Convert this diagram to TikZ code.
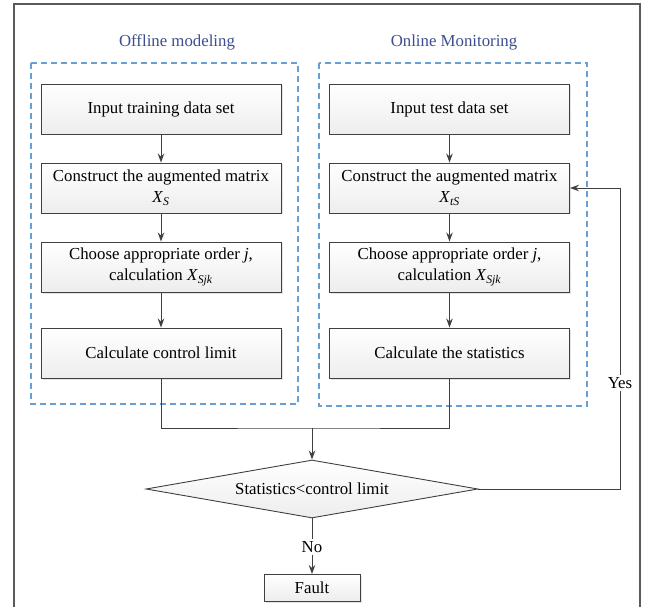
\documentclass[tikz,border=0pt]{standalone}
\usepackage{fontspec}
\setmainfont{Liberation Serif}
\usepackage{tikz}
\usetikzlibrary{shapes,shapes.geometric,arrows,arrows.meta,calc,positioning,shadows}

\definecolor{linegray}{HTML}{404040}
\definecolor{framegray}{HTML}{5A5A5A}
\definecolor{dashblue}{HTML}{6A9FD6}
\definecolor{titleblue}{HTML}{3C4E8E}

\tikzset{
  block/.style={draw=linegray, line width=0.9pt, top color=white, bottom color=gray!14,
    drop shadow={shadow xshift=1.5pt, shadow yshift=-1.5pt, fill=gray!35, opacity=0.6},
    minimum width=240pt, minimum height=50pt, align=center, inner sep=2pt},
  decision/.style={diamond, draw=linegray, line width=0.9pt, top color=white, bottom color=gray!14,
    aspect=5.7, minimum width=332pt, minimum height=58pt, inner sep=0pt},
  phase/.style={draw=dashblue, line width=1.3pt, dash pattern=on 6pt off 4pt},
  phasetitle/.style={text=titleblue},
  answer/.style={fill=white, inner sep=2pt},
  flow/.style={linegray, line width=0.9pt}
}

\begin{document}
\begin{tikzpicture}[%
    x=1pt, y=-1pt,
    >={Stealth[length=9pt,width=6.5pt]},
    node distance=79pt,
    on grid,
    auto,
    font=\fontsize{16.8}{21}\selectfont
  ]
  \useasboundingbox (0,0) rectangle (646,607);
  \draw[framegray, line width=1.2pt] (14,607) |- (640,4) -- (640,607);

  % offline side
  \node[phasetitle] (offt) at (177,42) {Offline modeling};
  \draw[phase] (31,63) rectangle (298,404);
  \node[block] (in1) at (161,109) {Input training data set};
  \node[block] (con1) [below=of in1] {Construct the augmented matrix\\\textit{X}\textsubscript{\textit{S}}};
  \node[block] (ch1) [below=of con1] {Choose appropriate order \textit{j},\\calculation \textit{X}\textsubscript{\textit{Sjk}}};
  \node[block] (calc1) [below=86pt of ch1] {Calculate control limit};

  % online side
  \node[phasetitle] (onlt) at (454,42) {Online Monitoring};
  \draw[phase] (319,63) rectangle (587,406);
  \node[block] (in2) [right=288.5pt of in1] {Input test data set};
  \node[block] (con2) [below=of in2] {Construct the augmented matrix\\\textit{X}\textsubscript{\textit{tS}}};
  \node[block] (ch2) [below=of con2] {Choose appropriate order \textit{j},\\calculation \textit{X}\textsubscript{\textit{Sjk}}};
  \node[block] (calc2) [below=86pt of ch2] {Calculate the statistics};

  \path[->, flow] (in1) edge (con1);
  \path[->, flow] (con1) edge (ch1);
  \path[->, flow] (ch1) edge (calc1);
  \path[->, flow] (in2) edge (con2);
  \path[->, flow] (con2) edge (ch2);
  \path[->, flow] (ch2) edge (calc2);

  % decision
  \coordinate (join) at (312,428);
  \node[decision] (dec) at (312,489) {Statistics<control limit};
  \node[answer] (no) [below=58pt of dec] {No};
  \node[block, minimum width=96pt, minimum height=27pt] (fault) [below=99pt of dec] {Fault};
  \node[answer] (yes) at (620,383) {Yes};
  \coordinate (turn) at (620,188);

  \draw[flow] (calc1.south) |- (join) -| (calc2.south);
  \draw[->, flow] (join) -- (dec.north);
  \draw[flow] (dec.south) -- (no.north);
  \draw[->, flow] (no.south) -- (fault.north);
  \draw[flow] (dec.east) -| (yes.south);
  \draw[->, flow] (yes.north) -- (turn) -- (con2.east);

  \end{tikzpicture}
\end{document}
